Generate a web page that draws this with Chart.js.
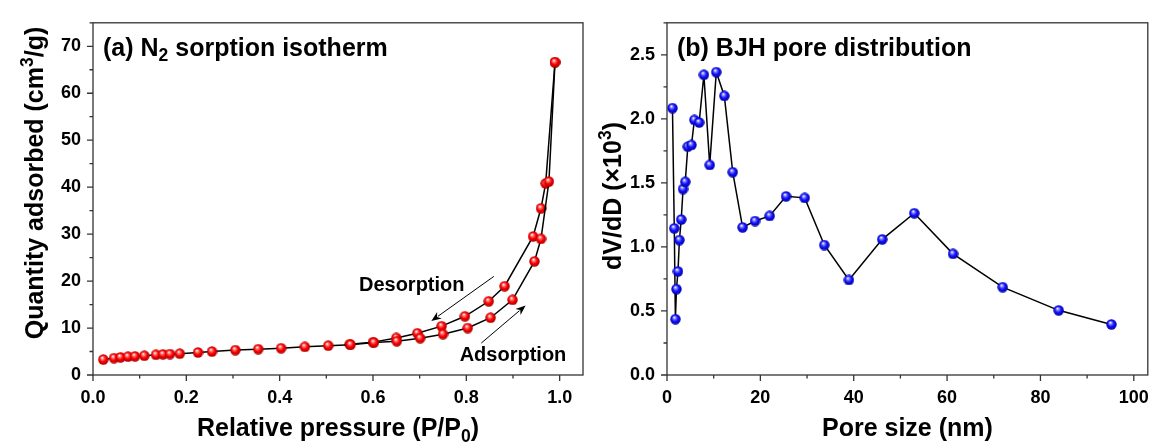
<!DOCTYPE html>
<html>
<head>
<meta charset="utf-8">
<script src="https://cdn.jsdelivr.net/npm/chart.js@4.4.1/dist/chart.umd.min.js"></script>
<style>
  html, body { margin: 0; padding: 0; background: #fff; }
  #wrap { position: relative; width: 1161px; height: 444px; }
  #isoChart { position: absolute; left: 0; top: 0; }
  #poreChart { position: absolute; left: 590px; top: 0; }
</style>
</head>
<body>
<div id="wrap">
  <canvas id="isoChart" width="590" height="444"></canvas>
  <canvas id="poreChart" width="571" height="444"></canvas>
</div>
<script>
// N2 isotherm, adsorption branch (P/P0, cm3/g)
const adsX = [0.022, 0.045, 0.059, 0.075, 0.090, 0.110, 0.135, 0.150, 0.165, 0.186, 0.225, 0.255, 0.305, 0.354, 0.403, 0.454, 0.504, 0.552, 0.602, 0.651, 0.701, 0.750, 0.803, 0.852, 0.899, 0.946, 0.960, 0.977, 0.990];
const adsY = [3.3, 3.6, 3.76, 3.9, 3.97, 4.1, 4.3, 4.4, 4.46, 4.55, 4.8, 5.0, 5.3, 5.5, 5.7, 6.0, 6.25, 6.45, 6.9, 7.2, 7.85, 8.7, 10.0, 12.2, 16.0, 24.2, 29.0, 41.2, 66.6];
// desorption branch, from high to low pressure
const desX = [0.990, 0.970, 0.960, 0.943, 0.882, 0.848, 0.797, 0.747, 0.695, 0.650, 0.600, 0.550];
const desY = [66.6, 40.8, 35.5, 29.5, 18.9, 15.7, 12.5, 10.4, 8.9, 7.9, 7.0, 6.55];

// BJH pore size distribution (nm, dV/dD x10^3)
const poreX = [1.17, 1.56, 1.8, 2.03, 2.35, 2.66, 3.05, 3.44, 3.91, 4.46, 5.24, 5.87, 6.89, 7.9, 9.15, 10.56, 12.28, 14.08, 16.2, 18.86, 21.99, 25.5, 29.5, 33.7, 38.97, 46.1, 52.97, 61.27, 71.9, 83.9, 95.2];
const poreY = [2.084, 1.145, 0.436, 0.671, 0.809, 1.054, 1.214, 1.452, 1.508, 1.783, 1.796, 1.992, 1.972, 2.344, 1.64, 2.365, 2.179, 1.584, 1.153, 1.202, 1.242, 1.395, 1.383, 1.015, 0.742, 1.059, 1.263, 0.946, 0.686, 0.505, 0.395];

// tick values
const xTicksA = [0, 0.2, 0.4, 0.6, 0.8, 1.0];
const yTicksA = [0, 10, 20, 30, 40, 50, 60, 70];
const xTicksB = [0, 20, 40, 60, 80, 100];
const yTicksB = [0, 0.5, 1.0, 1.5, 2.0, 2.5];

const FONT = "'Liberation Sans', Arial, Helvetica, sans-serif";
const AXIS = '#333';

// shaded ball marker
function makeBall(light, mid, dark) {
  const c = document.createElement('canvas');
  c.width = 11; c.height = 11;
  const g = c.getContext('2d');
  const grd = g.createRadialGradient(4.3, 3.6, 0.3, 5.5, 5.5, 5.5);
  grd.addColorStop(0, '#ffffff');
  grd.addColorStop(0.22, light);
  grd.addColorStop(0.55, mid);
  grd.addColorStop(1, dark);
  g.fillStyle = grd;
  g.beginPath();
  g.arc(5.5, 5.5, 5.2, 0, Math.PI * 2);
  g.fill();
  return c;
}
const redBall = makeBall('#ff7a7a', '#ff0000', '#a00000');
const blueBall = makeBall('#8080ff', '#1010ff', '#00009a');

function pts(xs, ys) {
  return xs.map((x, i) => ({ x: x, y: ys[i] }));
}

// text with sub/superscript pieces: [[text, ''|'sub'|'sup'], ...]
function drawRich(ctx, parts, x, y, size, align) {
  const widths = parts.map(p => {
    ctx.font = 'bold ' + (p[1] ? size * 0.7 : size) + 'px ' + FONT;
    return ctx.measureText(p[0]).width;
  });
  const total = widths.reduce((a, b) => a + b, 0);
  let cx = align === 'center' ? x - total / 2 : x;
  ctx.textAlign = 'left';
  ctx.textBaseline = 'alphabetic';
  parts.forEach((p, i) => {
    ctx.font = 'bold ' + (p[1] ? size * 0.7 : size) + 'px ' + FONT;
    let dy = 0;
    if (p[1] === 'sub') dy = size * 0.22;
    if (p[1] === 'sup') dy = -size * 0.42;
    ctx.fillText(p[0], cx, y + dy);
    cx += widths[i];
  });
}

function arrow(ctx, x1, y1, x2, y2) {
  const a = Math.atan2(y2 - y1, x2 - x1);
  const L = 10, W = 4;
  ctx.strokeStyle = '#000';
  ctx.fillStyle = '#000';
  ctx.lineWidth = 1;
  ctx.beginPath();
  ctx.moveTo(x1, y1);
  ctx.lineTo(x2 - Math.cos(a) * L * 0.8, y2 - Math.sin(a) * L * 0.8);
  ctx.stroke();
  ctx.beginPath();
  ctx.moveTo(x2, y2);
  ctx.lineTo(x2 - L * Math.cos(a) + W * Math.sin(a), y2 - L * Math.sin(a) - W * Math.cos(a));
  ctx.lineTo(x2 - L * 0.7 * Math.cos(a), y2 - L * 0.7 * Math.sin(a));
  ctx.lineTo(x2 - L * Math.cos(a) - W * Math.sin(a), y2 - L * Math.sin(a) + W * Math.cos(a));
  ctx.closePath();
  ctx.fill();
}

// box frame with outward major/minor ticks
const framePlugin = {
  id: 'frame',
  afterDraw(chart, args, opts) {
    const ctx = chart.ctx;
    const a = chart.chartArea;
    const sx = chart.scales.x, sy = chart.scales.y;
    ctx.save();
    ctx.strokeStyle = AXIS;
    ctx.lineWidth = 1.3;
    ctx.strokeRect(a.left, a.top, a.right - a.left, a.bottom - a.top);
    ctx.beginPath();
    const xt = opts.xTicks, yt = opts.yTicks;
    const xs = xt[1] - xt[0], ys = yt[1] - yt[0];
    for (let v = xt[0]; v <= sx.max + 1e-9; v += xs / 2) {
      const px = sx.getPixelForValue(v);
      const major = Math.abs(Math.round(v / xs) * xs - v) < 1e-9;
      ctx.moveTo(px, a.bottom);
      ctx.lineTo(px, a.bottom + (major ? 6 : 3.5));
    }
    for (let v = yt[0]; v <= sy.max + 1e-9; v += ys / 2) {
      const py = sy.getPixelForValue(v);
      const major = Math.abs(Math.round(v / ys) * ys - v) < 1e-9;
      ctx.moveTo(a.left, py);
      ctx.lineTo(a.left - (major ? 6 : 3.5), py);
    }
    ctx.stroke();

    ctx.fillStyle = '#000';
    drawRich(ctx, opts.label, a.left + 10, a.top + 33, 25, 'left');
    drawRich(ctx, opts.xTitle, (a.left + a.right) / 2, 436, 25, 'center');
    ctx.save();
    ctx.translate(opts.yTitleX, opts.yTitleY);
    ctx.rotate(-Math.PI / 2);
    drawRich(ctx, opts.yTitle, 0, 0, 25, 'center');
    ctx.restore();

    if (opts.notes) opts.notes(ctx, sx, sy);
    ctx.restore();
  }
};

function scaleOpts(ticks, min, max, width, digits) {
  return {
    x: {
      type: 'linear', min: min[0], max: max[0],
      grid: { display: false, drawTicks: false },
      border: { display: false },
      afterBuildTicks: s => { s.ticks = ticks[0].map(v => ({ value: v })); },
      afterFit: s => { s.height = 69; },
      ticks: {
        padding: 12, color: '#000',
        font: { family: FONT, size: 18, weight: 'bold' },
        callback: v => v.toFixed(digits[0])
      }
    },
    y: {
      type: 'linear', min: min[1], max: max[1],
      grid: { display: false, drawTicks: false },
      border: { display: false },
      afterBuildTicks: s => { s.ticks = ticks[1].map(v => ({ value: v })); },
      afterFit: s => { s.width = width; },
      ticks: {
        padding: 12, color: '#000',
        font: { family: FONT, size: 18, weight: 'bold' },
        callback: v => v.toFixed(digits[1])
      }
    }
  };
}

const lineDefaults = {
  showLine: true, borderColor: '#000', borderWidth: 1.5,
  tension: 0, pointRadius: 5, pointHoverRadius: 5, clip: false
};

new Chart(document.getElementById('isoChart'), {
  type: 'scatter',
  data: {
    datasets: [
      Object.assign({ label: 'Adsorption', data: pts(adsX, adsY), pointStyle: redBall }, lineDefaults),
      Object.assign({ label: 'Desorption', data: pts(desX, desY), pointStyle: redBall }, lineDefaults)
    ]
  },
  options: {
    responsive: false, animation: false, devicePixelRatio: 1,
    layout: { padding: { top: 17, right: 7, left: 0, bottom: 0 } },
    scales: scaleOpts([xTicksA, yTicksA], [0, 0], [1.05, 75], 93, [1, 0]),
    plugins: {
      legend: { display: false }, tooltip: { enabled: false },
      frame: {
        xTicks: xTicksA, yTicks: yTicksA,
        label: [['(a) N', ''], ['2', 'sub'], [' sorption isotherm', '']],
        xTitle: [['Relative pressure (P/P', ''], ['0', 'sub'], [')', '']],
        yTitle: [['Quantity adsorbed (cm', ''], ['3', 'sup'], ['/g)', '']],
        yTitleX: 43, yTitleY: 183,
        notes: (ctx, sx, sy) => {
          ctx.fillStyle = '#000';
          ctx.font = 'bold 20px ' + FONT;
          ctx.textAlign = 'center';
          ctx.textBaseline = 'middle';
          ctx.fillText('Desorption', sx.getPixelForValue(0.683), sy.getPixelForValue(19.0));
          ctx.fillText('Adsorption', sx.getPixelForValue(0.900), sy.getPixelForValue(4.1));
          arrow(ctx, sx.getPixelForValue(0.859), sy.getPixelForValue(21.0),
                     sx.getPixelForValue(0.725), sy.getPixelForValue(11.5));
          arrow(ctx, sx.getPixelForValue(0.832), sy.getPixelForValue(6.8),
                     sx.getPixelForValue(0.927), sy.getPixelForValue(14.8));
        }
      }
    }
  },
  plugins: [framePlugin]
});

new Chart(document.getElementById('poreChart'), {
  type: 'scatter',
  data: {
    datasets: [
      Object.assign({ label: 'BJH', data: pts(poreX, poreY), pointStyle: blueBall }, lineDefaults)
    ]
  },
  options: {
    responsive: false, animation: false, devicePixelRatio: 1,
    layout: { padding: { top: 17, right: 6, left: 0, bottom: 0 } },
    scales: scaleOpts([xTicksB, yTicksB], [0, 0], [103, 2.75], 77, [0, 1]),
    plugins: {
      legend: { display: false }, tooltip: { enabled: false },
      frame: {
        xTicks: xTicksB, yTicks: yTicksB,
        label: [['(b) BJH pore distribution', '']],
        xTitle: [['Pore size (nm)', '']],
        yTitle: [['dV/dD (\u00d710', ''], ['3', 'sup'], [')', '']],
        yTitleX: 31, yTitleY: 196
      }
    }
  },
  plugins: [framePlugin]
});
</script>
</body>
</html>
